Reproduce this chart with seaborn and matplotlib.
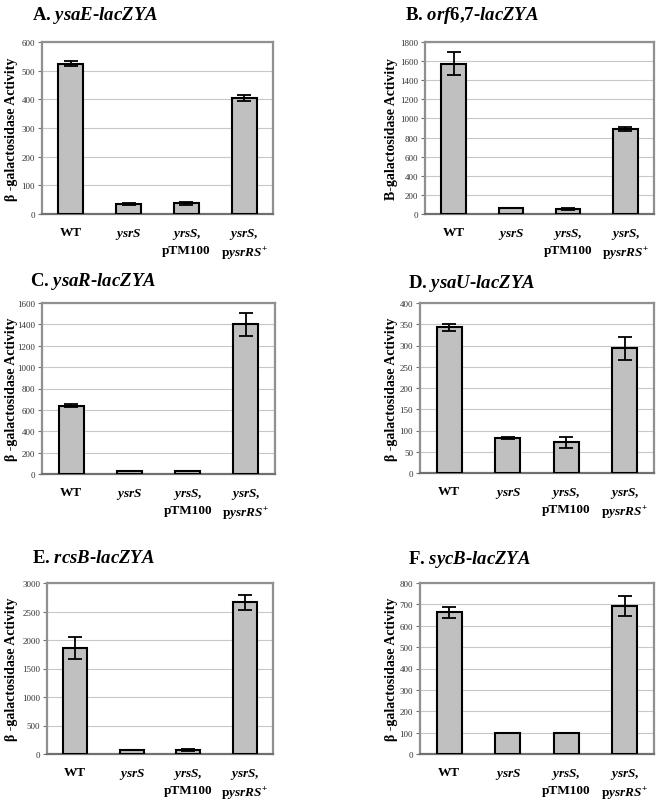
import matplotlib
matplotlib.use("Agg")
import matplotlib.pyplot as plt
import seaborn as sns
import pandas as pd
import numpy as np

sns.set_style("white")
plt.rcParams['font.family'] = ['Liberation Serif', 'DejaVu Serif']
plt.rcParams['text.color'] = 'black'
plt.rcParams['axes.labelcolor'] = 'black'
plt.rcParams['xtick.color'] = 'black'
plt.rcParams['mathtext.fontset'] = 'custom'
plt.rcParams['mathtext.rm'] = 'Liberation Serif:bold'
plt.rcParams['mathtext.it'] = 'Liberation Serif:italic:bold'
plt.rcParams['mathtext.bf'] = 'Liberation Serif:bold'

categories = ["WT", "ysrS", "yrsS, pTM100", "ysrS, pysrRS+"]
tick_labels = ["WT", r"$\mathit{ysrS}$", r"$\mathit{yrsS}$," + "\npTM100",
               r"$\mathit{ysrS}$," + "\n" + r"p$\mathit{ysrRS}^{+}$"]

titles = ["A.", "B.", "C.", "D.", "E.", "F."]
title_genes = ["ysaE-lacZYA", "orf6,7-lacZYA", "ysaR-lacZYA",
               "ysaU-lacZYA", "rcsB-lacZYA", "sycB-lacZYA"]
ylabels = ["β -galactosidase Activity", "B-galactosidase Activity",
           "β -galactosidase Activity", "β -galactosidase Activity",
           "β -galactosidase Activity", "β -galactosidase Activity"]

vals_A = [525, 35, 37, 405]
err_A = [8, 3, 6, 10]
vals_B = [1575, 60, 55, 890]
err_B = [125, 0, 10, 25]
vals_C = [640, 25, 25, 1400]
err_C = [15, 0, 0, 110]
vals_D = [343, 83, 72, 293]
err_D = [8, 2, 13, 26]
vals_E = [1860, 70, 65, 2660]
err_E = [195, 0, 15, 125]
vals_F = [662, 97, 97, 692]
err_F = [28, 0, 0, 45]

ymax = [600, 1800, 1600, 400, 3000, 800]
ystep = [100, 200, 200, 50, 500, 100]

all_vals = [vals_A, vals_B, vals_C, vals_D, vals_E, vals_F]
all_errs = [err_A, err_B, err_C, err_D, err_E, err_F]

W, H = 664, 803
fig = plt.figure(figsize=(W / 100, H / 100), dpi=100)

# axes boxes in pixels: left, top, right, bottom
boxes = [(42, 43, 273, 215), (425, 43, 654, 215),
         (42, 304, 275, 475), (420, 304, 654, 474),
         (47, 584, 273, 755), (420, 584, 654, 755)]
title_pos = [(32, 16), (405, 16), (30, 281), (408, 283), (32, 559), (408, 560)]
ylabel_x = [12, 392, 12, 392, 12, 392]


def title_text(prefix, gene):
    body = gene.replace("-", r"}$-$\mathit{").replace(",", r"}$,$\mathit{")
    return prefix + r" $\mathit{" + body + "}$"


for i in range(6):
    l, t, r, b = boxes[i]
    ax = fig.add_axes([l / W, 1 - b / H, (r - l) / W, (b - t) / H])
    df = pd.DataFrame({"strain": categories, "activity": all_vals[i]})
    sns.barplot(data=df, x="strain", y="activity", ax=ax, color="#c0c0c0",
                saturation=1, width=0.43, edgecolor="black", linewidth=1.5,
                errorbar=None, zorder=3)
    errs = np.array(all_errs[i])
    xs = np.arange(len(categories))
    mask = errs > 0
    ax.errorbar(xs[mask], np.array(all_vals[i])[mask], yerr=errs[mask],
                fmt="none", ecolor="black", elinewidth=1.3, capsize=5,
                capthick=1.3, zorder=4)
    ax.set_xlim(-0.5, 3.5)
    ax.set_ylim(0, ymax[i])
    ax.set_yticks(np.arange(0, ymax[i] + 1, ystep[i]))
    ax.yaxis.grid(True, color="#c8c8c8", linewidth=0.8, zorder=0)
    ax.set_axisbelow(True)
    for s in ax.spines.values():
        s.set_visible(True)
        s.set_color("#909090")
        s.set_linewidth(1.6)
    ax.spines["bottom"].set_color("#707070")
    ax.tick_params(axis="y", labelsize=6.5, length=3, width=0.8,
                   color="#707070", labelcolor="#333333", pad=2, left=True)
    ax.tick_params(axis="x", length=0, pad=9, labelcolor="black")
    ax.set_xticks(xs)
    ax.set_xticklabels(tick_labels, fontsize=9.5, fontweight="bold",
                       linespacing=1.3, va="top", color="black")
    ax.set_xlabel("")
    ax.set_ylabel("")
    fig.text(ylabel_x[i] / W, 1 - ((t + b) / 2) / H, ylabels[i], rotation=90,
             ha="center", va="center", fontsize=10, fontweight="bold",
             color="black")
    tx, ty = title_pos[i]
    fig.text(tx / W, 1 - ty / H, title_text(titles[i], title_genes[i]),
             ha="left", va="center", fontsize=13.5, fontweight="bold",
             color="black")

fig.savefig("out.png", dpi=100)
